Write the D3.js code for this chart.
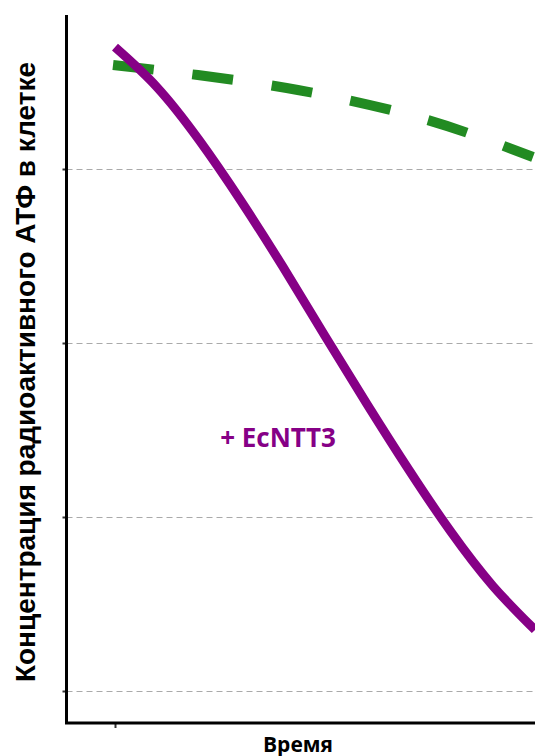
<!DOCTYPE html>
<html>
<head>
<meta charset="utf-8">
<script src="https://cdn.jsdelivr.net/npm/d3@7"></script>
<style>
  body { margin: 0; background: white; }
</style>
</head>
<body>
<main></main>
<script>
// time points (arbitrary units) and levels
let purpleTime = [0, 1, 2, 3, 4, 5, 6, 7, 8, 9, 10]
let purpleLevel = [4.70, 4.47, 4.167, 3.816, 3.437, 3.04, 2.649, 2.27, 1.914, 1.603, 1.351]

let greenTime = [0, 2.02, 4.4, 6.79, 8.45, 10]
let greenLevel = [4.598, 4.54, 4.454, 4.328, 4.207, 4.069]

let gridTicks = [1, 2, 3, 4]
let timeTicks = [0]

const svgWidth = 535
const svgHeight = 756

let svg = d3.select("main")
    .append("svg")
    .attr("width", svgWidth)
    .attr("height", svgHeight)

/* scales */

let xScale = d3.scaleLinear()
    .domain([0, 10])
    .range([115, 535])

let yScale = d3.scaleLinear()
    .domain([1, 4])
    .range([691, 169])

const axisX = 66.5
const axisY = 723

/* gridlines */

svg.append("g")
    .selectAll("line")
    .data(gridTicks)
    .enter()
    .append("line")
    .attr("x1", axisX)
    .attr("x2", svgWidth)
    .attr("y1", d => yScale(d) + 0.5)
    .attr("y2", d => yScale(d) + 0.5)
    .attr("stroke", "#aaaaaa")
    .attr("stroke-width", 1.2)
    .attr("stroke-dasharray", "6,4")

/* axes */

let leftAxis = d3.axisLeft(yScale)
    .tickValues(gridTicks)
    .tickSize(3)
    .tickFormat("")

let yAxis = svg.append("g")
    .attr("transform", `translate(${axisX - 1}, 0)`)
    .call(leftAxis)
yAxis.select("path").remove()
yAxis.selectAll("line").attr("stroke", "#333").attr("stroke-width", 2)

let bottomAxis = d3.axisBottom(xScale)
    .tickValues(timeTicks)
    .tickSize(5)
    .tickFormat("")

let xAxis = svg.append("g")
    .attr("transform", `translate(0, ${axisY})`)
    .call(bottomAxis)
xAxis.select("path").remove()
xAxis.selectAll("line").attr("stroke", "#333").attr("stroke-width", 2)

svg.append("path")
    .attr("d", `M${axisX},15 L${axisX},${axisY} L${svgWidth},${axisY}`)
    .attr("fill", "none")
    .attr("stroke", "black")
    .attr("stroke-width", 3)

/* curves */

let line = d3.line()
    .x(d => xScale(d[0]))
    .y(d => yScale(d[1]))
    .curve(d3.curveNatural)

svg.append("path")
    .datum(greenTime.map((t, i) => [t, greenLevel[i]]))
    .attr("d", line)
    .attr("fill", "none")
    .attr("stroke", "#228b22")
    .attr("stroke-width", 10)
    .attr("stroke-dasharray", "41,39")
    .attr("transform", "translate(-2,0)")

svg.append("path")
    .datum(purpleTime.map((t, i) => [t, purpleLevel[i]]))
    .attr("d", line)
    .attr("fill", "none")
    .attr("stroke", "#860086")
    .attr("stroke-width", 9)

/* text */

svg.append("text")
    .attr("x", 278)
    .attr("y", 447)
    .attr("text-anchor", "middle")
    .attr("fill", "#860086")
    .style("font-family", "'Open Sans', sans-serif")
    .style("font-weight", "bold")
    .style("font-size", "26px")
    .text("+ EcNTT3")

svg.append("text")
    .attr("x", 298)
    .attr("y", 752)
    .attr("text-anchor", "middle")
    .attr("fill", "black")
    .style("font-family", "'Open Sans', sans-serif")
    .style("font-weight", "bold")
    .style("font-size", "21px")
    .text("Время")

svg.append("text")
    .attr("transform", "translate(35, 372) rotate(-90)")
    .attr("text-anchor", "middle")
    .attr("fill", "black")
    .style("font-family", "'Liberation Sans', Arial, sans-serif")
    .style("font-weight", "bold")
    .style("font-size", "28px")
    .text("Концентрация радиоактивного АТФ в клетке")
</script>
</body>
</html>
